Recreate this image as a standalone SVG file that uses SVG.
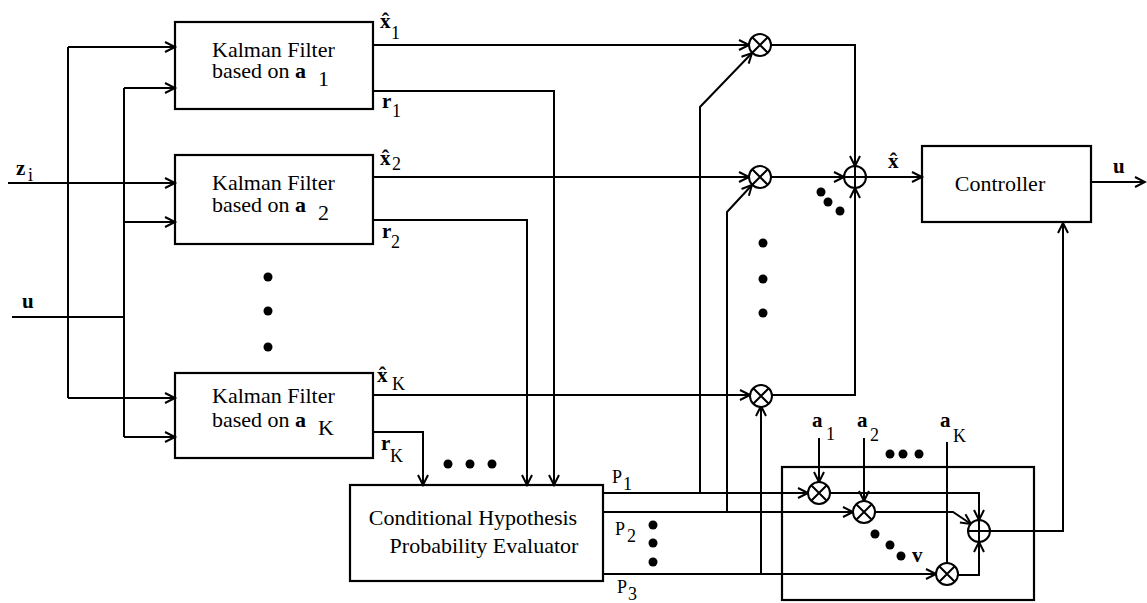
<svg xmlns="http://www.w3.org/2000/svg" width="1147" height="603" viewBox="0 0 1147 603">
<style>
.box{fill:none;stroke:#000;stroke-width:2.2}
.ln{fill:none;stroke:#000;stroke-width:2}
.ar{marker-end:url(#arr)}
.op{fill:#fff;stroke:#000;stroke-width:2}
text{font-family:'Liberation Serif','DejaVu Serif','Times New Roman',serif;fill:#000}
.t{font-size:22px}
.b{font-size:21px;font-weight:bold}
.s{font-size:18px}
.h{font-size:22px;font-weight:bold;text-anchor:middle}
.d{fill:#000}
</style>
<defs>
<marker id="arr" markerUnits="userSpaceOnUse" markerWidth="14" markerHeight="14" refX="11" refY="6" orient="auto" overflow="visible">
<path d="M1,1 L11,6 L1,11" fill="none" stroke="#000" stroke-width="2"/>
</marker>
<g id="mul"><circle r="11" class="op"/><path d="M-7.5,-7.5 L7.5,7.5 M-7.5,7.5 L7.5,-7.5" class="ln"/></g>
<g id="sum"><circle r="11" class="op"/><path d="M-11,0 L11,0 M0,-11 L0,11" class="ln"/></g>
</defs>

<g id="connectors">
<path class="ln ar" d="M8,183 L175,183"/>
<path class="ln" d="M68,47 L68,398"/>
<path class="ln ar" d="M68,47 L175,47"/>
<path class="ln ar" d="M68,398 L175,398"/>
<path class="ln" d="M12,317 L124,317"/>
<path class="ln" d="M124,88 L124,437"/>
<path class="ln ar" d="M124,88 L175,88"/>
<path class="ln ar" d="M124,222 L175,222"/>
<path class="ln ar" d="M124,437 L175,437"/>
<path class="ln ar" d="M373,45 L749,45"/>
<path class="ln ar" d="M373,177 L749,177"/>
<path class="ln ar" d="M373,395 L750,395"/>
<path class="ln ar" d="M373,91 L554,91 L554,485"/>
<path class="ln ar" d="M373,220 L527,220 L527,485"/>
<path class="ln ar" d="M373,432 L423,432 L423,485"/>
<path class="ln ar" d="M603,493 L808,493"/>
<path class="ln ar" d="M603,512 L853,512"/>
<path class="ln ar" d="M603,574 L936,574"/>
<path class="ln ar" d="M700,493 L700,107 L752,53"/>
<path class="ln ar" d="M727,512 L727,212 L752,185"/>
<path class="ln ar" d="M761,574 L761,406"/>
<path class="ln ar" d="M771,45 L855,45 L855,166"/>
<path class="ln ar" d="M771,177 L844,177"/>
<path class="ln ar" d="M772,395 L855,395 L855,188"/>
<path class="ln ar" d="M866,177 L922,177"/>
<path class="ln ar" d="M1091,182 L1145,182"/>
<path class="ln ar" d="M819,438 L819,482"/>
<path class="ln ar" d="M864,438 L864,501"/>
<path class="ln" d="M947,442 L947,563"/>
<path class="ln ar" d="M830,493 L979,493 L979,520"/>
<path class="ln ar" d="M875,512 L953,512 L971,524"/>
<path class="ln ar" d="M958,575 L979,575 L979,542"/>
<path class="ln ar" d="M990,531 L1063,531 L1063,223"/>
</g>

<g id="kf1">
<rect class="box" x="175" y="22" width="198" height="87"/>
<text class="t" x="212" y="57">Kalman Filter</text>
<text class="t" x="212" y="78">based on <tspan font-weight="bold">a</tspan></text>
<text class="t" x="318" y="86">1</text>
</g>
<g id="kf2">
<rect class="box" x="175" y="155" width="198" height="89"/>
<text class="t" x="212" y="190">Kalman Filter</text>
<text class="t" x="212" y="212">based on <tspan font-weight="bold">a</tspan></text>
<text class="t" x="318" y="220">2</text>
</g>
<g id="kfK">
<rect class="box" x="175" y="373" width="198" height="85"/>
<text class="t" x="212" y="403">Kalman Filter</text>
<text class="t" x="212" y="427">based on <tspan font-weight="bold">a</tspan></text>
<text class="t" x="318" y="435" font-size="20">K</text>
</g>
<g id="chpe">
<rect class="box" x="350" y="485" width="253" height="96"/>
<text class="t" x="473" y="525" text-anchor="middle">Conditional Hypothesis</text>
<text class="t" x="484" y="553" text-anchor="middle">Probability Evaluator</text>
</g>
<g id="controller">
<rect class="box" x="922" y="146" width="169" height="76"/>
<text class="t" x="1000" y="191" text-anchor="middle" font-size="23">Controller</text>
</g>
<g id="weightbox">
<rect class="box" x="782" y="467" width="252" height="133"/>
</g>

<g id="ops">
<use href="#mul" x="760" y="45"/>
<use href="#mul" x="760" y="177"/>
<use href="#mul" x="761" y="396"/>
<use href="#sum" x="855" y="177"/>
<use href="#mul" x="819" y="493"/>
<use href="#mul" x="864" y="512"/>
<use href="#mul" x="947" y="574"/>
<use href="#sum" x="979" y="531"/>
</g>

<g id="labels">
<text class="b" x="16" y="175">z</text><text class="s" x="28" y="181">i</text>
<text class="b" x="22" y="308">u</text>
<text class="b" x="380" y="28">x</text><text class="h" x="385.5" y="28">ˆ</text><text class="s" x="391" y="39">1</text>
<text class="b" x="382" y="108">r</text><text class="s" x="392" y="117">1</text>
<text class="b" x="380" y="165">x</text><text class="h" x="385.5" y="165">ˆ</text><text class="s" x="392" y="170">2</text>
<text class="b" x="382" y="238">r</text><text class="s" x="391" y="248">2</text>
<text class="b" x="377" y="382">x</text><text class="h" x="382.5" y="382">ˆ</text><text class="s" x="392" y="390" font-size="17">K</text>
<text class="b" x="381" y="450">r</text><text class="s" x="390" y="462" font-size="17">K</text>
<text class="b" x="888" y="168">x</text><text class="h" x="893.5" y="168">ˆ</text>
<text class="b" x="1113" y="173">u</text>
<text class="s" x="612" y="483">P</text><text class="s" x="623" y="490" font-size="14">1</text>
<text class="s" x="615" y="535">P</text><text class="s" x="627" y="542" font-size="14">2</text>
<text class="s" x="617" y="593">P</text><text class="s" x="628" y="600" font-size="14">3</text>
<text class="b" x="812" y="427">a</text><text class="s" x="826" y="440">1</text>
<text class="b" x="857" y="427">a</text><text class="s" x="870" y="441">2</text>
<text class="b" x="940" y="427">a</text><text class="s" x="953" y="442" font-size="17">K</text>
<text class="b" x="912" y="562" font-size="16">v</text>
</g>

<g id="dots">
<circle class="d" cx="268" cy="277" r="4.5"/><circle class="d" cx="268" cy="311" r="4.5"/><circle class="d" cx="268" cy="347" r="4.5"/>
<circle class="d" cx="763" cy="243" r="4.5"/><circle class="d" cx="763" cy="279" r="4.5"/><circle class="d" cx="763" cy="313" r="4.5"/>
<circle class="d" cx="821" cy="192" r="4.5"/><circle class="d" cx="828" cy="202" r="4.5"/><circle class="d" cx="840" cy="211" r="4.5"/>
<circle class="d" cx="448" cy="464" r="4.5"/><circle class="d" cx="470" cy="464" r="4.5"/><circle class="d" cx="492" cy="464" r="4.5"/>
<circle class="d" cx="653" cy="525" r="4.5"/><circle class="d" cx="653" cy="543" r="4.5"/><circle class="d" cx="653" cy="562" r="4.5"/>
<circle class="d" cx="890" cy="454" r="4.5"/><circle class="d" cx="903" cy="454" r="4.5"/><circle class="d" cx="919" cy="454" r="4.5"/>
<circle class="d" cx="875" cy="534" r="4.5"/><circle class="d" cx="890" cy="545" r="4.5"/><circle class="d" cx="901" cy="556" r="4.5"/>
</g>
</svg>
